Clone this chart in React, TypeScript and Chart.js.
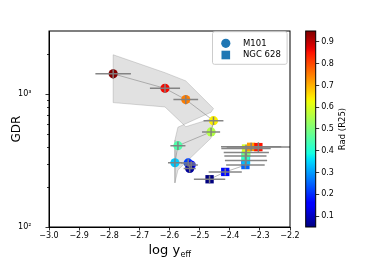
import React, { useEffect, useRef } from 'react';
import { Chart, registerables } from 'chart.js';

Chart.register(...registerables);

// ---------- data ----------
const m101X = [-2.787, -2.615, -2.546, -2.454, -2.462, -2.572, -2.582, -2.538, -2.528, -2.533];
const m101Gdr = [1426, 1109, 912, 633, 521, 410, 305, 304, 293, 276];
const m101Rad = [0.95, 0.86, 0.75, 0.64, 0.56, 0.45, 0.34, 0.22, 0.16, 0.07];
const m101XErr = [0.059, 0.05, 0.041, 0.033, 0.03, 0.025, 0.023, 0.023, 0.022, 0.02];
const m101GdrErr = [110, 85, 70, 45, 38, 30, 22, 20, 20, 18];

const m101BandX = [-2.787, -2.615, -2.546, -2.454, -2.462, -2.572, -2.582];
const m101BandHi = [1986, 1455, 1262, 781, 733, 565, 452];
const m101BandLo = [866, 803, 570, 661, 468, 269, 215];

const ngcX = [-2.467, -2.415, -2.348, -2.346, -2.348, -2.345, -2.346, -2.329, -2.305];
const ngcGdr = [229, 260, 293, 317, 343, 364, 390, 402, 400];
const ngcRad = [0.05, 0.17, 0.25, 0.33, 0.42, 0.5, 0.6, 0.72, 0.85];
const ngcXErr = [0.052, 0.055, 0.064, 0.07, 0.07, 0.075, 0.082, 0.1, 0.105];
const ngcGdrErr = [15, 16, 18, 20, 22, 24, 26, 30, 35];

const xTicks = [-3.0, -2.9, -2.8, -2.7, -2.6, -2.5, -2.4, -2.3, -2.2];
const yMajorTicks = [100, 1000];
const yMinorTicks = [200, 300, 400, 500, 600, 700, 800, 900, 2000];
const cbTicks = [0.1, 0.2, 0.3, 0.4, 0.5, 0.6, 0.7, 0.8, 0.9];
const radMin = 0.05;
const radMax = 0.95;
const xMin = -3.0;
const xMax = -2.2;
const yMin = 100;
const yMax = 3000;

// matplotlib "jet" segment data
const jetR = [[0, 0], [0.35, 0], [0.66, 1], [0.89, 1], [1, 0.5]];
const jetG = [[0, 0], [0.125, 0], [0.375, 1], [0.64, 1], [0.91, 0], [1, 0]];
const jetB = [[0, 0.5], [0.11, 1], [0.34, 1], [0.65, 0], [1, 0]];

function interp(pts: number[][], x: number): number {
  for (let i = 1; i < pts.length; i++) {
    if (x <= pts[i][0]) {
      const [x0, y0] = pts[i - 1];
      const [x1, y1] = pts[i];
      return y0 + ((y1 - y0) * (x - x0)) / (x1 - x0);
    }
  }
  return pts[pts.length - 1][1];
}
function jet(t: number): string {
  const c = Math.max(0, Math.min(1, t));
  const r = Math.round(255 * interp(jetR, c));
  const g = Math.round(255 * interp(jetG, c));
  const b = Math.round(255 * interp(jetB, c));
  return `rgb(${r},${g},${b})`;
}
const radColor = (r: number) => jet((r - radMin) / (radMax - radMin));

const FONT = '"DejaVu Sans", sans-serif';
const W = 390;
const H = 260;

export default function App() {
  const mainRef = useRef<HTMLCanvasElement | null>(null);
  const cbRef = useRef<HTMLCanvasElement | null>(null);

  useEffect(() => {
    document.body.style.margin = '0';
    const bandData = [
      ...m101BandX.map((x, i) => ({ x, y: m101BandHi[i] })),
      ...m101BandX.map((x, i) => ({ x, y: m101BandLo[i] })).reverse(),
    ];
    bandData.push({ ...bandData[0] });

    const errorBars = {
      id: 'errorBars',
      afterDatasetsDraw(chart: any) {
        const { ctx, scales } = chart;
        const xs = scales.x;
        const ys = scales.y;
        ctx.save();
        ctx.strokeStyle = 'rgba(128,128,128,0.95)';
        ctx.lineWidth = 1.5;
        const series = [
          [m101X, m101Gdr, m101XErr, m101GdrErr],
          [ngcX, ngcGdr, ngcXErr, ngcGdrErr],
        ];
        for (const [X, Y, XE, YE] of series) {
          for (let i = 0; i < X.length; i++) {
            const px = xs.getPixelForValue(X[i]);
            const py = ys.getPixelForValue(Y[i]);
            ctx.beginPath();
            ctx.moveTo(xs.getPixelForValue(X[i] - XE[i]), py);
            ctx.lineTo(xs.getPixelForValue(X[i] + XE[i]), py);
            ctx.moveTo(px, ys.getPixelForValue(Y[i] - YE[i]));
            ctx.lineTo(px, ys.getPixelForValue(Y[i] + YE[i]));
            ctx.stroke();
          }
        }
        ctx.restore();
      },
    };

    const decor = {
      id: 'decor',
      afterDraw(chart: any) {
        const { ctx, chartArea: ca, scales } = chart;
        const ys = scales.y;
        ctx.save();
        // frame
        ctx.strokeStyle = '#000';
        ctx.lineWidth = 1;
        ctx.strokeRect(ca.left, ca.top, ca.right - ca.left, ca.bottom - ca.top);
        // y ticks
        ctx.beginPath();
        for (const v of yMajorTicks) {
          const p = Math.round(ys.getPixelForValue(v)) + 0.5;
          ctx.moveTo(ca.left, p);
          ctx.lineTo(ca.left - 3.5, p);
        }
        for (const v of yMinorTicks) {
          const p = Math.round(ys.getPixelForValue(v)) + 0.5;
          ctx.moveTo(ca.left, p);
          ctx.lineTo(ca.left - 2, p);
        }
        ctx.lineWidth = 0.8;
        ctx.stroke();

        // x title
        ctx.fillStyle = '#000';
        ctx.textBaseline = 'alphabetic';
        ctx.textAlign = 'left';
        ctx.font = `13px ${FONT}`;
        const main = 'log y';
        const w1 = ctx.measureText(main).width;
        ctx.font = `8px ${FONT}`;
        const sub = 'eff';
        const w2 = ctx.measureText(sub).width;
        const cx = (ca.left + ca.right) / 2;
        const sx = cx - (w1 + w2) / 2;
        ctx.font = `13px ${FONT}`;
        ctx.fillText(main, sx, 254);
        ctx.font = `8px ${FONT}`;
        ctx.fillText(sub, sx + w1 + 0.5, 256.5);

        // y title
        ctx.save();
        ctx.translate(17, (ca.top + ca.bottom) / 2);
        ctx.rotate(-Math.PI / 2);
        ctx.textAlign = 'center';
        ctx.textBaseline = 'middle';
        ctx.font = `12px ${FONT}`;
        ctx.fillText('GDR', 0, 0);
        ctx.restore();

        // legend
        const lx = ca.right - 77.5;
        const ly = ca.top + 0.7;
        const lw = 74.6;
        const lh = 32.6;
        ctx.beginPath();
        ctx.roundRect(lx, ly, lw, lh, 2);
        ctx.fillStyle = 'rgba(255,255,255,0.8)';
        ctx.fill();
        ctx.strokeStyle = '#cccccc';
        ctx.lineWidth = 1;
        ctx.stroke();
        ctx.fillStyle = '#1f77b4';
        ctx.beginPath();
        ctx.arc(lx + 13.3, ly + 11.6, 4.6, 0, Math.PI * 2);
        ctx.fill();
        ctx.fillRect(lx + 13.3 - 4.3, ly + 23.3 - 4.3, 8.6, 8.6);
        ctx.fillStyle = '#000';
        ctx.font = `8.5px ${FONT}`;
        ctx.textAlign = 'left';
        ctx.textBaseline = 'middle';
        ctx.fillText('M101', lx + 30.5, ly + 11.8);
        ctx.fillText('NGC 628', lx + 30.5, ly + 23.5);
        ctx.restore();
      },
    };

    const mainChart = new Chart(mainRef.current as HTMLCanvasElement, {
      type: 'scatter',
      data: {
        datasets: [
          {
            label: 'M101',
            data: m101X.map((x, i) => ({ x, y: m101Gdr[i] })),
            showLine: true,
            borderColor: 'rgba(128,128,128,0.55)',
            borderWidth: 1,
            pointStyle: 'circle',
            pointRadius: 4.6,
            pointBackgroundColor: m101Rad.map(radColor),
            pointBorderColor: m101Rad.map(radColor),
            pointBorderWidth: 0,
            order: 1,
          } as any,
          {
            label: 'NGC 628',
            data: ngcX.map((x, i) => ({ x, y: ngcGdr[i] })),
            showLine: true,
            borderColor: 'rgba(128,128,128,0.55)',
            borderWidth: 1,
            pointStyle: 'rect',
            pointRadius: 5.9,
            pointBackgroundColor: ngcRad.map(radColor),
            pointBorderColor: ngcRad.map(radColor),
            pointBorderWidth: 0,
            order: 1,
          } as any,
          {
            label: 'band',
            data: bandData,
            showLine: true,
            fill: 'shape',
            backgroundColor: 'rgba(128,128,128,0.24)',
            borderColor: 'rgba(128,128,128,0.3)',
            borderWidth: 1,
            pointRadius: 0,
            order: 2,
          } as any,
        ],
      },
      options: {
        animation: false,
        responsive: false,
        events: [],
        layout: { padding: { left: 0, right: 100, top: 31, bottom: 0 } },
        plugins: { legend: { display: false }, tooltip: { enabled: false } },
        scales: {
          x: {
            type: 'linear',
            min: xMin,
            max: xMax,
            afterBuildTicks: (s: any) => {
              s.ticks = xTicks.map((v) => ({ value: v }));
            },
            afterFit: (s: any) => {
              s.height = 33;
            },
            grid: { drawOnChartArea: false, tickLength: 3.5, color: '#000', tickColor: '#000', lineWidth: 0.8 },
            border: { display: true, color: '#000', width: 1 },
            ticks: {
              autoSkip: false,
              maxRotation: 0,
              padding: 0.5,
              color: '#000',
              font: { family: FONT, size: 8 },
              callback: (v: any) => (Number(v) < 0 ? '\u2212' : '') + Math.abs(Number(v)).toFixed(1),
            },
          },
          y: {
            type: 'logarithmic',
            min: yMin,
            max: yMax,
            afterBuildTicks: (s: any) => {
              s.ticks = [...yMajorTicks, ...yMinorTicks].sort((a, b) => a - b).map((v) => ({ value: v }));
            },
            afterFit: (s: any) => {
              s.width = 49;
            },
            grid: { display: false },
            border: { display: true, color: '#000', width: 1 },
            ticks: {
              autoSkip: false,
              padding: 9.5,
              color: '#000',
              font: { family: FONT, size: 8 },
              callback: (v: any) => (Number(v) === 100 ? '10\u00b2' : Number(v) === 1000 ? '10\u00b3' : ''),
            },
          },
        },
      } as any,
      plugins: [errorBars, decor],
    });

    const cbPlugin = {
      id: 'cbar',
      beforeDatasetsDraw(chart: any) {
        const { ctx, chartArea: ca, scales } = chart;
        const ys = scales.y;
        const yTop = ys.getPixelForValue(radMax);
        const yBot = ys.getPixelForValue(radMin);
        const grad = ctx.createLinearGradient(0, yBot, 0, yTop);
        for (let i = 0; i <= 64; i++) {
          grad.addColorStop(i / 64, jet(i / 64));
        }
        ctx.save();
        ctx.fillStyle = grad;
        ctx.fillRect(ca.left, yTop, ca.right - ca.left, yBot - yTop);
        ctx.strokeStyle = '#000';
        ctx.lineWidth = 1;
        ctx.strokeRect(ca.left, yTop, ca.right - ca.left, yBot - yTop);
        // title
        ctx.translate(343, (yTop + yBot) / 2);
        ctx.rotate(-Math.PI / 2);
        ctx.fillStyle = '#000';
        ctx.textAlign = 'center';
        ctx.textBaseline = 'middle';
        ctx.font = `8.5px ${FONT}`;
        ctx.fillText('Rad (R25)', 0, 0);
        ctx.restore();
      },
    };

    const cbChart = new Chart(cbRef.current as HTMLCanvasElement, {
      type: 'scatter',
      data: { datasets: [] },
      options: {
        animation: false,
        responsive: false,
        events: [],
        layout: { padding: { left: 305.7, right: 0, top: 31, bottom: 33 } },
        plugins: { legend: { display: false }, tooltip: { enabled: false } },
        scales: {
          x: { display: false, min: 0, max: 1 },
          y: {
            type: 'linear',
            position: 'right',
            min: radMin,
            max: radMax,
            afterBuildTicks: (s: any) => {
              s.ticks = cbTicks.map((v) => ({ value: v }));
            },
            afterFit: (s: any) => {
              s.width = W - 315.7;
            },
            grid: { drawOnChartArea: false, tickLength: 3.5, color: '#000', tickColor: '#000', lineWidth: 0.8 },
            border: { display: false },
            ticks: {
              autoSkip: false,
              padding: 2,
              color: '#000',
              font: { family: FONT, size: 8 },
              callback: (v: any) => Number(v).toFixed(1),
            },
          },
        },
      } as any,
      plugins: [cbPlugin],
    });

    return () => {
      mainChart.destroy();
      cbChart.destroy();
    };
  }, []);

  return (
    <div style={{ position: 'relative', width: W, height: H, background: '#fff' }}>
      <canvas ref={mainRef} width={W} height={H} style={{ position: 'absolute', left: 0, top: 0 }} />
      <canvas ref={cbRef} width={W} height={H} style={{ position: 'absolute', left: 0, top: 0 }} />
    </div>
  );
}
